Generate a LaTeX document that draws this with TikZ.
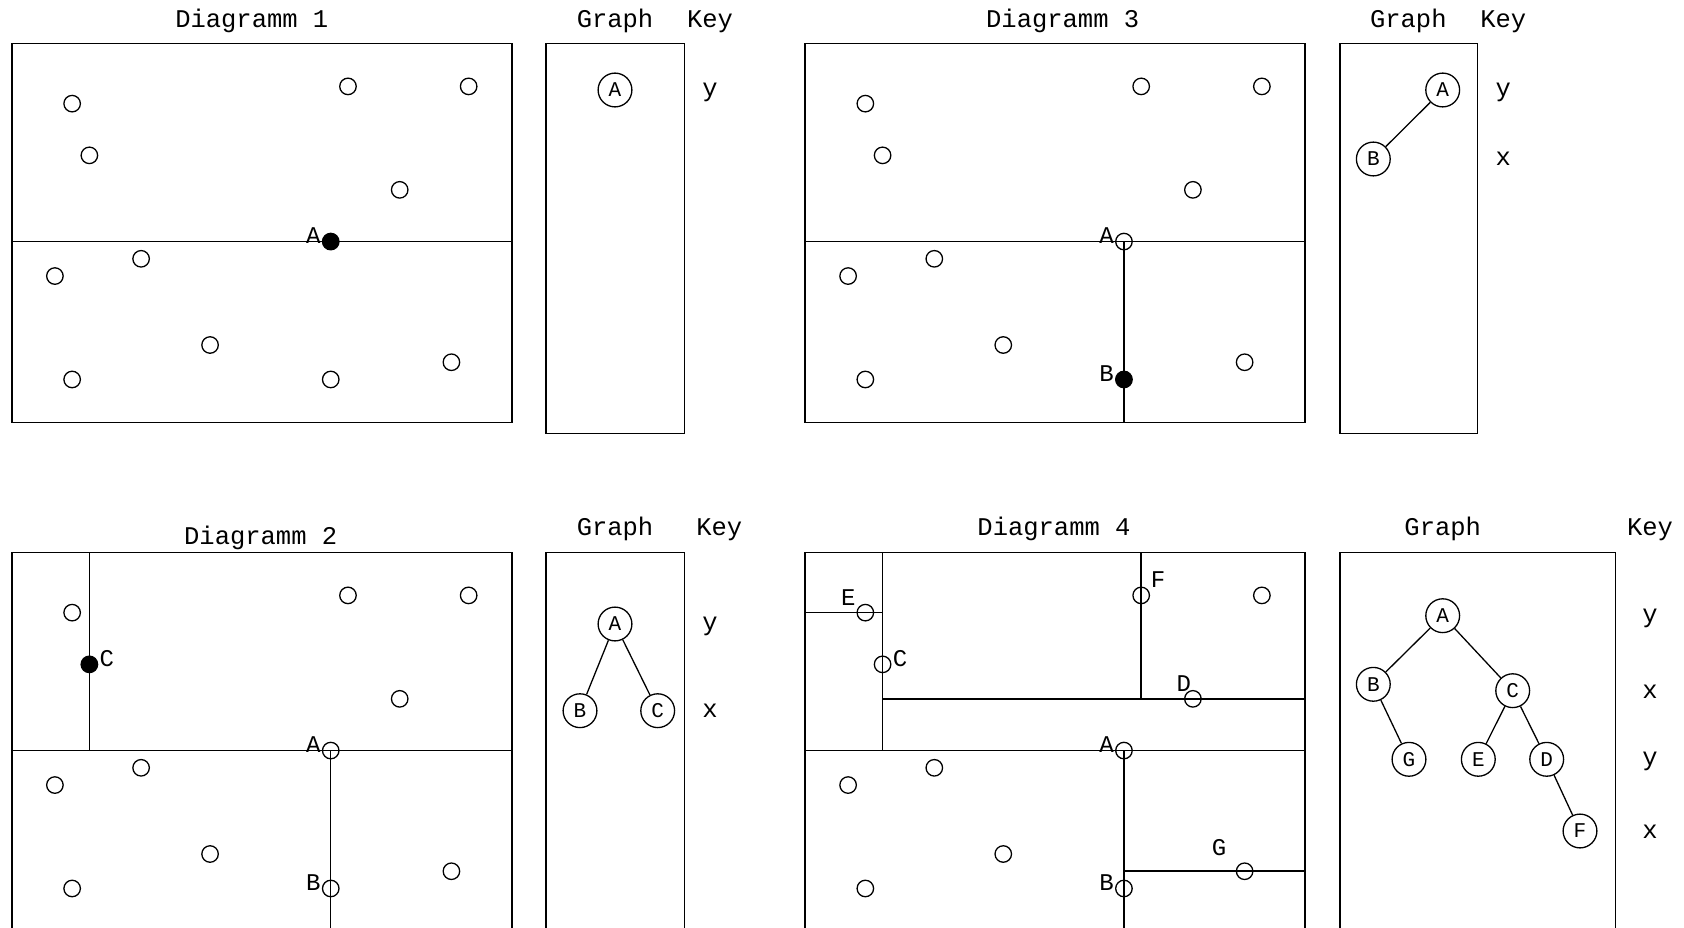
\documentclass[tikz,border=0pt]{standalone}
\usepackage{fontspec}
\setmainfont{Liberation Mono}
\newcommand{\kdpts}[1]{%
  \foreach \nm/\px/\py in {h/26.5/2.5, i/7.5/12.5, j/2.5/13.5, k/11.5/17.5, l/3.5/19.5}{%
    \node[pt] (#1\nm) at (\px,\py) {};}}
\begin{document}
\begin{tikzpicture}[x=1pt,y=-1pt,
  frame/.style={draw, line width=1.5pt},
  part/.style={line width=1.5pt},
  pt/.style={circle, draw, line width=1.3pt, minimum size=16.5pt, inner sep=0pt},
  ptfill/.style={pt, fill=black},
  lbl/.style={inner sep=0pt, font=\fontsize{24}{28}\selectfont},
  ttl/.style={inner sep=0pt, anchor=base, font=\fontsize{25.5}{30}\selectfont},
  gnode/.style={circle, draw, line width=1.3pt, minimum size=33.8pt, inner sep=0pt, font=\fontsize{21}{24}\selectfont},
  gedge/.style={line width=1.3pt},
  keyl/.style={inner sep=0pt, font=\fontsize{25.5}{30}\selectfont},
]
\useasboundingbox (0,0) rectangle (1684,928);
\clip (0,0) rectangle (1684,928);

% ---------- titles ----------
\node[ttl] (t1) at (251.8,27.3) {Diagramm 1};
\node[ttl] (t3) at (1062.7,27.3) {Diagramm 3};
\node[ttl] (t2) at (260.7,544.3) {Diagramm 2};
\node[ttl] (t4) at (1054,535) {Diagramm 4};
\node[ttl] (g1t) at (615,27.3) {Graph};
\node[ttl] (g3t) at (1408.3,27.3) {Graph};
\node[ttl] (g2t) at (615,535) {Graph};
\node[ttl] (g4t) at (1442.7,535) {Graph};
\node[ttl] (k1t) at (710,27.3) {Key};
\node[ttl] (k3t) at (1503.3,27.3) {Key};
\node[ttl] (k2t) at (719.3,535) {Key};
\node[ttl] (k4t) at (1650,535) {Key};

% ---------- Diagramm 1 ----------
\begin{scope}[shift={(11.8pt,-43.3pt)}, x=17.24pt, y=-17.24pt]
  \draw[frame] (0,0) rectangle (29,22);
  \draw[part] (0,11.5) -- (29,11.5);
  \kdpts{a}
  \node[pt] (aE) at (3.5,3.5) {};
  \node[pt] (aC) at (4.5,6.5) {};
  \node[pt] (aF) at (19.5,2.5) {};
  \node[pt] (aD) at (22.5,8.5) {};
  \node[pt] (aG) at (25.5,18.5) {};
  \node[pt] (aB) at (18.5,19.5) {};
  \node[ptfill] (aA) at (18.5,11.5) {};
  \node[lbl, xshift=-17.5pt, yshift=6pt] (aAl) at (aA) {A};
\end{scope}

% ---------- Diagramm 2 ----------
\begin{scope}[shift={(11.8pt,-552.3pt)}, x=17.24pt, y=-17.24pt]
  \draw[frame] (0,0) rectangle (29,22);
  \draw[part] (0,11.5) -- (29,11.5);
  \draw[part] (4.5,0) -- (4.5,11.5);
  \draw[part] (18.5,11.5) -- (18.5,22);
  \kdpts{b}
  \node[pt] (bE) at (3.5,3.5) {};
  \node[ptfill] (bC) at (4.5,6.5) {};
  \node[pt] (bF) at (19.5,2.5) {};
  \node[pt] (bD) at (22.5,8.5) {};
  \node[pt] (bG) at (25.5,18.5) {};
  \node[pt] (bB) at (18.5,19.5) {};
  \node[pt] (bA) at (18.5,11.5) {};
  \node[lbl, xshift=-17.5pt, yshift=6pt] (bAl) at (bA) {A};
  \node[lbl, xshift=-17.5pt, yshift=6pt] (bBl) at (bB) {B};
  \node[lbl, xshift=17.5pt, yshift=6pt] (bCl) at (bC) {C};
\end{scope}

% ---------- Diagramm 3 ----------
\begin{scope}[shift={(805pt,-43.3pt)}, x=17.24pt, y=-17.24pt]
  \draw[frame] (0,0) rectangle (29,22);
  \draw[part] (0,11.5) -- (29,11.5);
  \draw[part] (18.5,11.5) -- (18.5,22);
  \kdpts{c}
  \node[pt] (cE) at (3.5,3.5) {};
  \node[pt] (cC) at (4.5,6.5) {};
  \node[pt] (cF) at (19.5,2.5) {};
  \node[pt] (cD) at (22.5,8.5) {};
  \node[pt] (cG) at (25.5,18.5) {};
  \node[ptfill] (cB) at (18.5,19.5) {};
  \node[pt] (cA) at (18.5,11.5) {};
  \node[lbl, xshift=-17.5pt, yshift=6pt] (cAl) at (cA) {A};
  \node[lbl, xshift=-17.5pt, yshift=6pt] (cBl) at (cB) {B};
\end{scope}

% ---------- Diagramm 4 ----------
\begin{scope}[shift={(805pt,-552.3pt)}, x=17.24pt, y=-17.24pt]
  \draw[frame] (0,0) rectangle (29,22);
  \draw[part] (0,11.5) -- (29,11.5);
  \draw[part] (4.5,0) -- (4.5,11.5);
  \draw[part] (18.5,11.5) -- (18.5,22);
  \draw[part] (4.5,8.5) -- (29,8.5);
  \draw[part] (19.5,0) -- (19.5,8.5);
  \draw[part] (0,3.5) -- (4.5,3.5);
  \draw[part] (18.5,18.5) -- (29,18.5);
  \kdpts{d}
  \node[pt] (dE) at (3.5,3.5) {};
  \node[pt] (dC) at (4.5,6.5) {};
  \node[pt] (dF) at (19.5,2.5) {};
  \node[pt] (dD) at (22.5,8.5) {};
  \node[pt] (dG) at (25.5,18.5) {};
  \node[pt] (dB) at (18.5,19.5) {};
  \node[pt] (dA) at (18.5,11.5) {};
  \node[lbl, xshift=-17.5pt, yshift=6pt] (dAl) at (dA) {A};
  \node[lbl, xshift=-17.5pt, yshift=6pt] (dBl) at (dB) {B};
  \node[lbl, xshift=17.5pt, yshift=6pt] (dCl) at (dC) {C};
  \node[lbl, xshift=-9pt, yshift=15.5pt] (dDl) at (dD) {D};
  \node[lbl, xshift=-17pt, yshift=15.5pt] (dEl) at (dE) {E};
  \node[lbl, xshift=17pt, yshift=15.5pt] (dFl) at (dF) {F};
  \node[lbl, xshift=-25.5pt, yshift=23.5pt] (dGl) at (dG) {G};
\end{scope}

% ---------- Graph panels ----------
\draw[frame] (546,43.3) rectangle (684.3,433.3);
\draw[frame] (1340,43.3) rectangle (1477.7,433.3);
\draw[frame] (546,552.3) rectangle (684.3,960);
\draw[frame] (1340,552.3) rectangle (1615.7,960);

% graph 1
\node[gnode] (g1A) at (615,90) {A};
\node[keyl] (k1a) at (710,92) {y};

% graph 2
\node[gnode] (g2A) at (615,624) {A};
\node[gnode] (g2B) at (580,710.7) {B};
\node[gnode] (g2C) at (657.7,710.7) {C};
\draw[gedge] (g2A) -- (g2B);
\draw[gedge] (g2A) -- (g2C);
\node[keyl] (k2a) at (710,626) {y};
\node[keyl] (k2b) at (710,710.7) {x};

% graph 3
\node[gnode] (g3A) at (1442.7,90) {A};
\node[gnode] (g3B) at (1373.3,159) {B};
\draw[gedge] (g3A) -- (g3B);
\node[keyl] (k3a) at (1503.3,92) {y};
\node[keyl] (k3b) at (1503.3,159) {x};

% graph 4
\node[gnode] (g4A) at (1442.7,615.7) {A};
\node[gnode] (g4B) at (1373.3,684.3) {B};
\node[gnode] (g4C) at (1512.7,690.7) {C};
\node[gnode] (g4G) at (1409,759.3) {G};
\node[gnode] (g4E) at (1478.3,759.3) {E};
\node[gnode] (g4D) at (1546.7,759.3) {D};
\node[gnode] (g4F) at (1580,831) {F};
\draw[gedge] (g4A) -- (g4B);
\draw[gedge] (g4A) -- (g4C);
\draw[gedge] (g4B) -- (g4G);
\draw[gedge] (g4C) -- (g4E);
\draw[gedge] (g4C) -- (g4D);
\draw[gedge] (g4D) -- (g4F);
\node[keyl] (k4a) at (1650,618) {y};
\node[keyl] (k4b) at (1650,692) {x};
\node[keyl] (k4c) at (1650,761) {y};
\node[keyl] (k4d) at (1650,832) {x};
\end{tikzpicture}
\end{document}
